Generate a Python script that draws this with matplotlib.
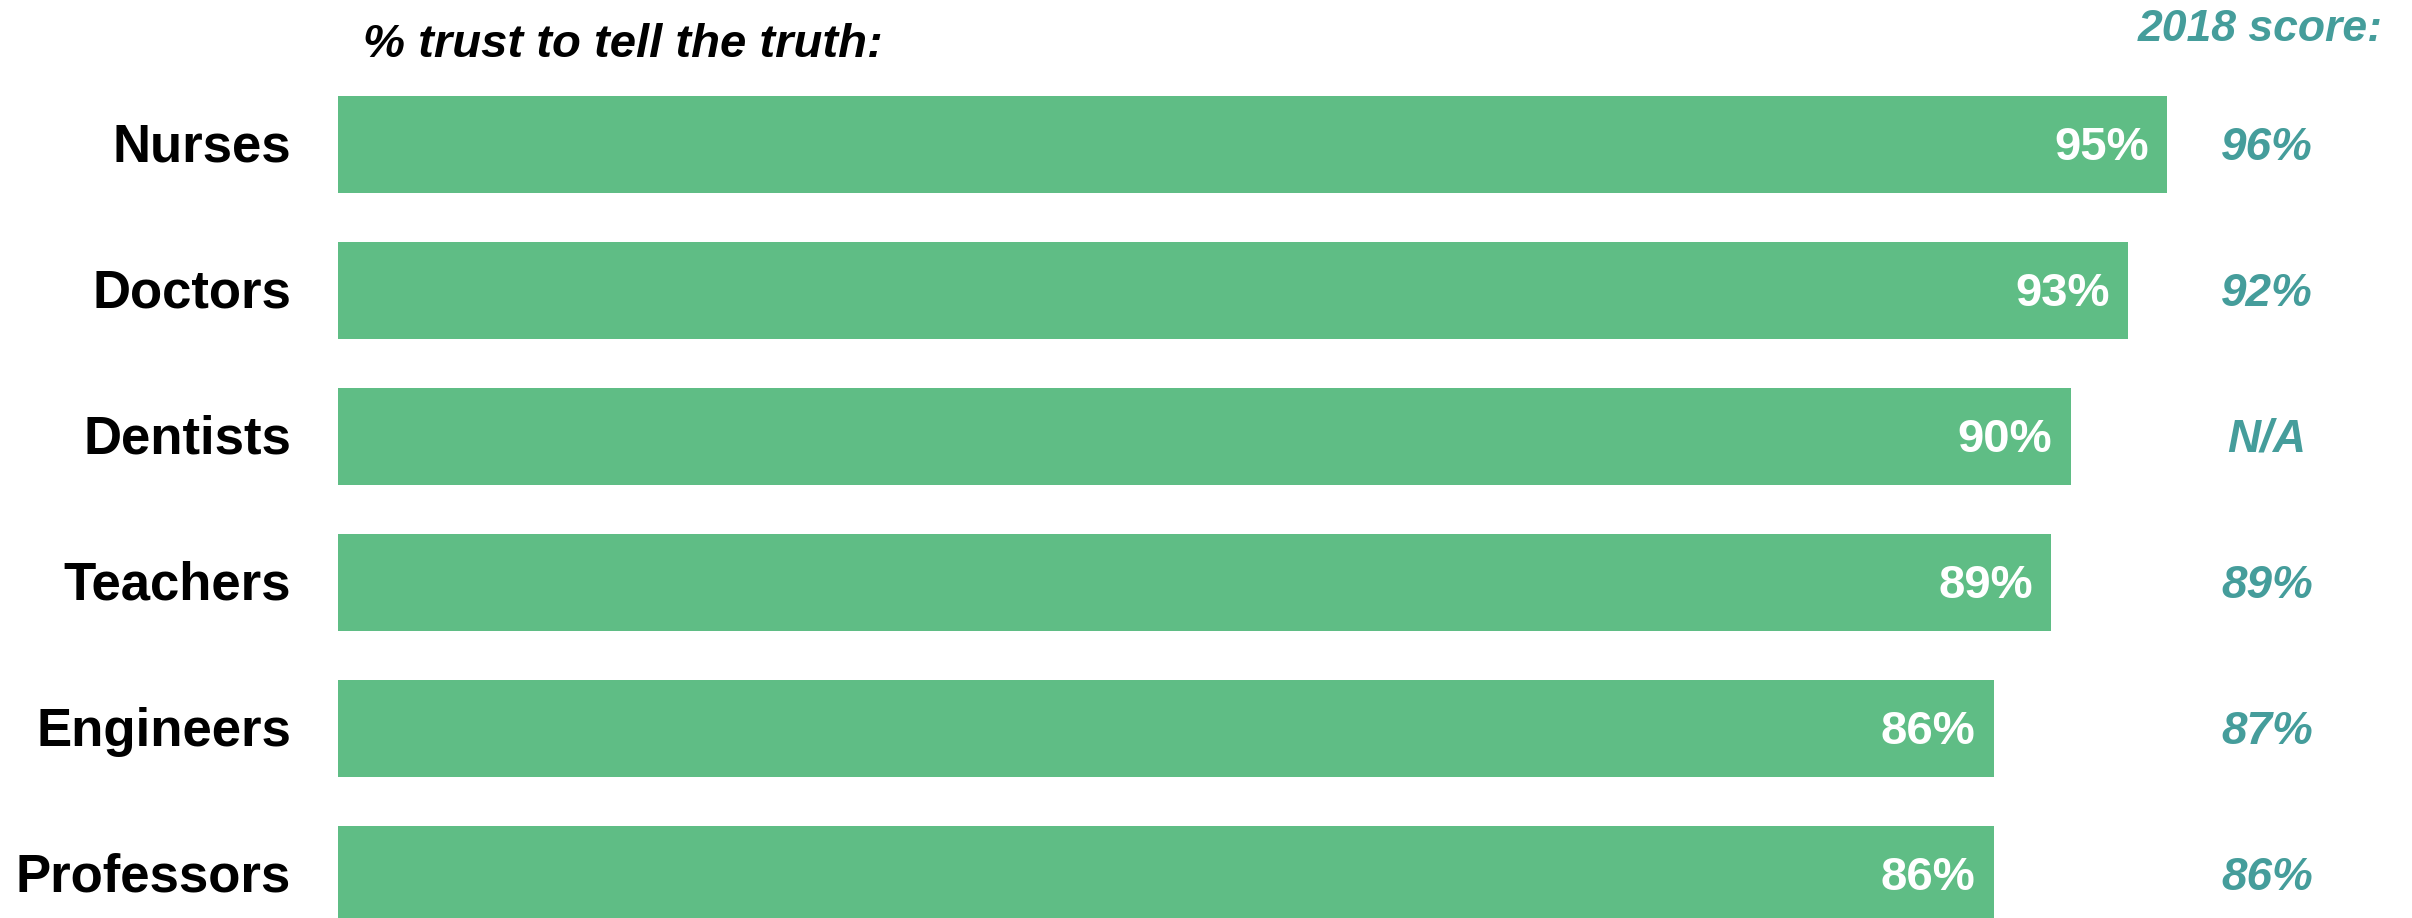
import matplotlib.pyplot as plt

plt.rcParams['font.family'] = ['Liberation Sans', 'DejaVu Sans']

professions = ['Nurses', 'Doctors', 'Dentists', 'Teachers', 'Engineers', 'Professors']
trust = [95, 93, 90, 89, 86, 86]
score_2018 = ['96%', '92%', 'N/A', '89%', '87%', '86%']

bar_color = '#5fbd85'
teal = '#459d9b'

fig = plt.figure(figsize=(24.12, 9.18), dpi=100)
ax = fig.add_axes([338 / 2412, 0, 1925 / 2412, 1])

pos = list(range(len(professions)))
ax.barh(pos, trust, height=0.665, color=bar_color)
ax.set_xlim(0, 100)
ax.set_ylim(5.298, -0.99)
ax.axis('off')

# small nudge so the text sits on the bar centre like the original
dy = 0.022
for y, name, v, old in zip(pos, professions, trust, score_2018):
    ax.text(-2.44, y + dy, name, ha='right', va='center', fontsize=38,
            fontweight='bold', color='black')
    ax.text(v - 0.94, y + dy, f'{v}%', ha='right', va='center', fontsize=34,
            fontweight='bold', color='white')
    ax.text(100.2, y + dy, old, ha='center', va='center', fontsize=33,
            fontweight='bold', fontstyle='italic', color=teal, clip_on=False)

ax.text(1.3, -0.68, '% trust to tell the truth:', ha='left', va='center',
        fontsize=34, fontweight='bold', fontstyle='italic', color='black')
ax.text(106.2, -0.79, '2018 score:', ha='right', va='center', fontsize=32,
        fontweight='bold', fontstyle='italic', color=teal, clip_on=False)

fig.savefig('out.png', dpi=100)
